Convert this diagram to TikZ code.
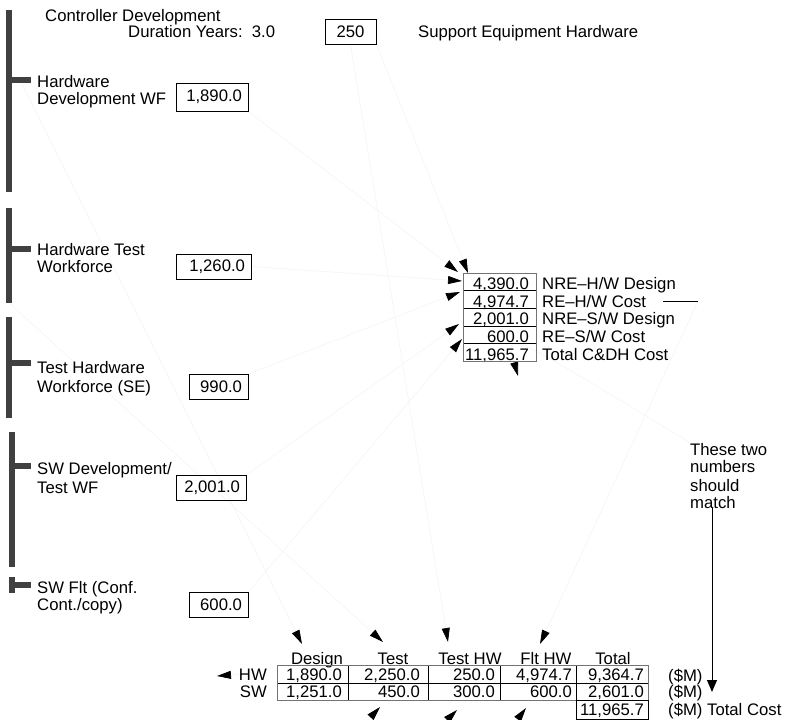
\documentclass[tikz,border=0pt]{standalone}
\usepackage{fontspec}
\setmainfont{Liberation Sans}
\usetikzlibrary{arrows.meta,backgrounds}
\newcommand{\lblfont}{\fontsize{16.7}{17}\selectfont}

\begin{document}
\begin{tikzpicture}[
    x=1pt, y=-1pt,
    txt/.style={font=\lblfont, inner sep=0pt, anchor=base west, align=left},
    num/.style={font=\lblfont, inner sep=0pt, anchor=base east},
    hdr/.style={font=\lblfont, inner sep=0pt, anchor=base},
    valbox/.style={draw, line width=1pt, font=\lblfont, inner xsep=6pt,
                   inner ysep=0pt, minimum height=25pt, align=right},
    sector/.style={line width=5.5pt, draw=black!75},
    wire/.style={draw=black!4, line width=0.7pt},
    link/.style={wire, -{Triangle[length=14pt,width=8pt,color=black]}},
    pointer/.style={line width=1pt, -{Triangle[length=12pt,width=10pt]}}
]
\useasboundingbox (0,0) rectangle (793,720);

% --- TITLE ---
\node[txt] (ctrl) at (45,21) {Controller Development};
\node[txt] (dur) at (128,37) {Duration Years:\ \ 3.0};
\node[valbox, text width=39pt, align=center] (bsupport) at (350.5,31.5) {250};
\node[txt] (seh) at (418,37) {Support Equipment Hardware};

% --- WORKFORCE INPUTS ---
\node[txt] (lhwdev) at (37,104) {Hardware\\Development WF};
\node[valbox, text width=60pt, minimum height=28pt] (bhwdev) at (212,97) {1,890.0};

\node[txt] (lhwtest) at (37,272) {Hardware Test\\Workforce};
\node[valbox, text width=63pt] (bhwtest) at (213.5,266.5) {1,260.0};

\node[txt] (ltesthw) at (37,392) {Test Hardware\\[2pt]Workforce (SE)};
\node[valbox, text width=47pt] (btesthw) at (218.5,387) {990.0};

\node[txt] (lswdev) at (37,493) {SW Development/\\[2pt]Test WF};
\node[valbox, text width=58pt] (bswdev) at (211,488) {2,001.0};

\node[txt] (lswflt) at (37,610) {SW Flt (Conf.\\Cont./copy)};
\node[valbox, text width=47pt] (bswflt) at (218.5,605) {600.0};

% --- C&DH SUMMARY ---
\foreach \v/\t [count=\i] in {{4,390.0}/{NRE–H/W Design}, {4,974.7}/{RE–H/W Cost},
    {2,001.0}/{NRE–S/W Design}, {600.0}/{RE–S/W Cost}, {11,965.7}/{Total C\&DH Cost}} {
  \node[num] (cdh\i) at (529,272+17.6*\i) {\v};
  \node[txt] (cdhl\i) at (542,272+17.6*\i) {\t};
}
\foreach \i in {1,...,4}
  \draw (463,273+17.6*\i) -- (536,273+17.6*\i);
\draw[black!55, line width=1pt] (463,273) rectangle (536,361);

\coordinate (restart) at (663,301);
\coordinate (relink) at (698,301);
\draw (restart) -- (relink);

% --- NOTE ---
\node[txt] (note) at (690,508) {These two\\numbers\\[2pt]should\\match};
\coordinate (matchend) at (712,692);
\draw[pointer] (note.south west -| matchend) -- (matchend);

% --- COST TABLE ---
\foreach \h/\x [count=\i] in {Design/317, Test/393, Test HW/470, Flt HW/546, Total/613}
  \node[hdr] (hd\i) at (\x,664) {\h};
\node[num] (hwlab) at (267,680) {HW};
\node[num] (swlab) at (267,697) {SW};
\foreach \v/\x [count=\i] in {{1,890.0}/342, {2,250.0}/420, {250.0}/495, {4,974.7}/572, {9,364.7}/644}
  \node[num] (hw\i) at (\x,680) {\v};
\foreach \v/\x [count=\i] in {{1,251.0}/342, {450.0}/420, {300.0}/495, {600.0}/572, {2,601.0}/644}
  \node[num] (sw\i) at (\x,697) {\v};
\node[num] (grand) at (644,715) {11,965.7};
\node[txt] (uhw) at (668,681) {(\$M)};
\node[txt] (usw) at (668,697) {(\$M)};
\node[txt] (utot) at (668,715) {(\$M) Total Cost};

\draw (277,683) -- (648,683);
\foreach \x in {348,428,500,576}
  \draw (\x,665) -- (\x,700);
\draw[black!55, line width=1pt] (277,665) rectangle (648,700);
\draw (576,700) rectangle (648,719);

% --- CONNECTORS ---
\coordinate (hwsrc) at (20,80);
\coordinate (tstsrc) at (9,303);
\coordinate (t1) at (458,272);
\coordinate (t2) at (468,273);
\coordinate (t3) at (462,281);
\coordinate (t4) at (460,292);
\coordinate (t5) at (459,324);
\coordinate (t6) at (462,339);
\coordinate (t7) at (518,376);
\coordinate (tdes) at (302,644);
\coordinate (ttst) at (383,642);
\coordinate (tthw) at (448,642);
\coordinate (tflt) at (540,644);
\coordinate (thw) at (217,676);
\coordinate (s13) at (368,720);
\coordinate (t13) at (380,707);
\coordinate (s14) at (447,720);
\coordinate (t14) at (457,710);
\coordinate (s15) at (517,720);
\coordinate (t15) at (526,708);

\begin{scope}[on background layer]
\draw[link] (bhwdev.south east) -- (t1);
\draw[link] (bsupport.south east) -- (t2);
\draw[link] (bhwtest.east) -- (t3);
\draw[link] (btesthw.north east) -- (t4);
\draw[link] (bswdev.north east) -- (t5);
\draw[link] (bswflt.north east) -- (t6);
\draw[link] (note.north west) .. controls (505,330) .. (t7);
\draw[link] (hwsrc) -- (tdes);
\draw[link] (tstsrc) -- (ttst);
\draw[link] (bsupport.south) -- (tthw);
\draw[link] (relink) -- (tflt);
\draw[link] (hwlab.west) -- (thw);
\draw[link] (s13) -- (t13);
\draw[link] (s14) -- (t14);
\draw[link] (s15) -- (t15);
\end{scope}

% --- SECTOR FRAMES ---
\foreach \x/\top/\bot/\tick in {9/10/192/80, 9/208/303/249, 9/317/418/363,
                                12/432/567/466, 12/577/593/585} {
  \draw[sector] (\x,\top) -- (\x,\bot);
  \draw[sector] (\x,\tick) -- (31,\tick);
}

\end{tikzpicture}
\end{document}
